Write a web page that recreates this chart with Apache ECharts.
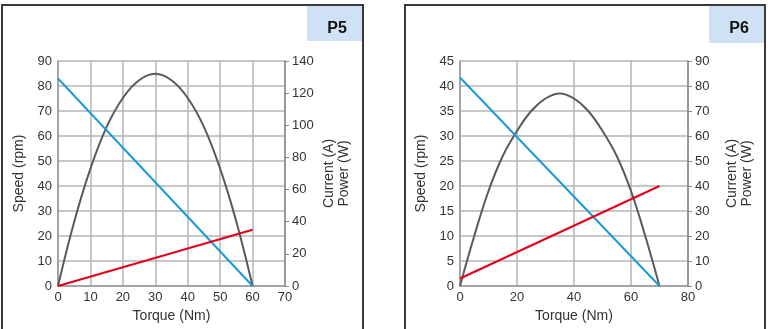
<!DOCTYPE html>
<html><head><meta charset="utf-8">
<script src="https://cdn.jsdelivr.net/npm/echarts@6/dist/echarts.min.js"></script>
<style>html,body{margin:0;padding:0;background:#fff}#c{width:768px;height:329px}</style>
</head><body><div id="c"></div>
<script>
// ---- Data ----
// P5
const p5SpeedTorque = [0, 60];
const p5Speed = [83, 0];            // rpm
const p5CurrentTorque = [0, 60];
const p5Current = [0, 35];          // A
const p5PowerTorque = [0, 5, 10, 15, 20, 25, 30, 35, 40, 45, 50, 55, 60];
const p5Power = [0, 40, 73, 99, 117, 128, 132, 128, 117, 99, 73, 40, 0]; // W
// P6
const p6SpeedTorque = [0, 70];
const p6Speed = [41.7, 0];
const p6CurrentTorque = [0, 70];
const p6Current = [3, 40];
const p6PowerTorque = [0, 5, 10, 15, 20, 25, 30, 35, 40, 45, 50, 55, 60, 65, 70];
const p6Power = [0, 20, 38, 52, 62, 70, 75, 77, 75, 70, 62, 52, 38, 20, 0];

const pair = (xs, ys) => xs.map((x, i) => [x, ys[i]]);

const FONT = 'Liberation Sans';
const TXT = '#333';
const GRID = '#b5b5b5';
const BLUE = '#1b9ad6', RED = '#e3001b', GREY = '#5a5a5a';

function xAxis(gi, max, interval) {
  return {
    type: 'value', gridIndex: gi, min: 0, max: max, interval: interval,
    name: 'Torque (Nm)', nameLocation: 'middle', nameGap: 23,
    nameTextStyle: {fontFamily: FONT, fontSize: 14, color: TXT},
    axisLine: {show: true, lineStyle: {color: '#999', width: 1.5}},
    axisTick: {show: false},
    axisLabel: {fontFamily: FONT, fontSize: 13, color: TXT, margin: 5},
    splitLine: {show: true, lineStyle: {color: GRID, width: 1.5}}
  };
}
function yLeft(gi, max, interval) {
  return {
    type: 'value', gridIndex: gi, position: 'left', min: 0, max: max, interval: interval,
    name: 'Speed (rpm)', nameLocation: 'middle', nameGap: 32, nameRotate: 90,
    nameTextStyle: {fontFamily: FONT, fontSize: 14, color: TXT},
    axisLine: {show: true, lineStyle: {color: '#999', width: 1.5}},
    axisTick: {show: false},
    axisLabel: {fontFamily: FONT, fontSize: 13, color: TXT, margin: 6},
    splitLine: {show: true, lineStyle: {color: GRID, width: 1.5}}
  };
}
function yRight(gi, max, interval) {
  return {
    type: 'value', gridIndex: gi, position: 'right', min: 0, max: max, interval: interval,
    name: 'Current (A)\nPower (W)', nameLocation: 'middle', nameGap: 37, nameRotate: 90,
    nameTextStyle: {fontFamily: FONT, fontSize: 14, color: TXT, lineHeight: 15},
    axisLine: {show: true, lineStyle: {color: '#888', width: 1.5}},
    axisTick: {show: true, length: 4, lineStyle: {color: '#888'}},
    axisLabel: {fontFamily: FONT, fontSize: 13, color: TXT, margin: 7},
    splitLine: {show: false}
  };
}
function line(xi, yi, data, color, smooth) {
  return {type: 'line', xAxisIndex: xi, yAxisIndex: yi, data: data, smooth: smooth || false,
    showSymbol: false, symbol: 'none', silent: true,
    lineStyle: {color: color, width: 2}, z: 3};
}

const chart = echarts.init(document.getElementById('c'), null, {renderer: 'canvas'});
chart.setOption({
  animation: false,
  backgroundColor: '#fff',
  grid: [
    {left: 58, right: 483, top: 61, bottom: 43},
    {left: 460, right: 80, top: 61, bottom: 43}
  ],
  xAxis: [xAxis(0, 70, 10), xAxis(1, 80, 20)],
  yAxis: [yLeft(0, 90, 10), yRight(0, 140, 20), yLeft(1, 45, 5), yRight(1, 90, 10)],
  series: [
    line(0, 1, pair(p5PowerTorque, p5Power), GREY, 0.4),
    line(0, 0, pair(p5SpeedTorque, p5Speed), BLUE),
    line(0, 1, pair(p5CurrentTorque, p5Current), RED),
    line(1, 3, pair(p6PowerTorque, p6Power), GREY, 0.4),
    line(1, 2, pair(p6SpeedTorque, p6Speed), BLUE),
    line(1, 3, pair(p6CurrentTorque, p6Current), RED)
  ],
  graphic: [
    {type: 'rect', shape: {x: 2, y: 5, width: 361, height: 340}, style: {fill: 'none', stroke: '#3a3a3a', lineWidth: 2}, z: 10},
    {type: 'rect', shape: {x: 307, y: 6, width: 55, height: 35}, style: {fill: '#cfe1f4'}, z: 5},
    {type: 'text', x: 337, y: 29, style: {text: 'P5', fontFamily: FONT, fontWeight: 'bold', fontSize: 16, fill: '#111', align: 'center', verticalAlign: 'middle'}, z: 11},
    {type: 'rect', shape: {x: 405, y: 5, width: 360, height: 340}, style: {fill: 'none', stroke: '#3a3a3a', lineWidth: 2}, z: 10},
    {type: 'rect', shape: {x: 709, y: 6, width: 55, height: 37}, style: {fill: '#cfe1f4'}, z: 5},
    {type: 'text', x: 739, y: 29, style: {text: 'P6', fontFamily: FONT, fontWeight: 'bold', fontSize: 16, fill: '#111', align: 'center', verticalAlign: 'middle'}, z: 11}
  ]
});
</script></body></html>
